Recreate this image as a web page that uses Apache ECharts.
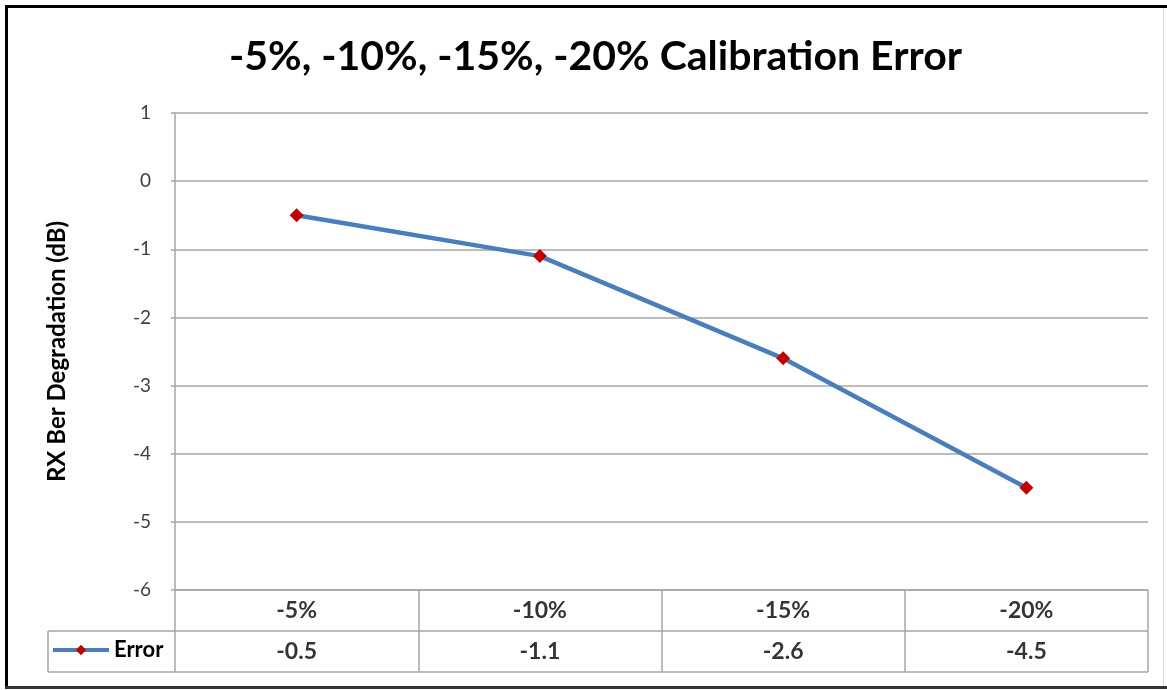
<!DOCTYPE html>
<html>
<head>
<meta charset="utf-8">
<script src="https://cdn.jsdelivr.net/npm/echarts@6/dist/echarts.min.js"></script>
<style>
html,body{margin:0;padding:0;background:#fff;}
#main{width:1167px;height:690px;}
</style>
</head>
<body>
<div id="main"></div>
<script>
const categories = ['-5%', '-10%', '-15%', '-20%'];
const errorValues = [-0.5, -1.1, -2.6, -4.5];
const valueLabels = ['-0.5', '-1.1', '-2.6', '-4.5'];
const seriesName = 'Error';
const titleText = '-5%, -10%, -15%, -20% Calibration Error';
const yAxisName = 'RX Ber Degradation (dB)';

const FONT = 'Lato';
const gridColor = '#A6A6A6';

const tableData = [];
categories.forEach((c, i) => {
  tableData.push([c, 1.5, c]);
  tableData.push([c, 0.5, valueLabels[i]]);
});

const chart = echarts.init(document.getElementById('main'), null, {renderer: 'canvas'});
chart.setOption({
  animation: false,
  backgroundColor: '#fff',
  title: {
    text: titleText,
    left: 224,
    top: 31,
    textStyle: {fontFamily: FONT, fontSize: 41, fontWeight: 'bold', color: '#000'}
  },
  legend: {
    data: [seriesName],
    left: 51,
    top: 639,
    itemWidth: 56,
    itemHeight: 13,
    itemGap: 4,
    padding: 0,
    lineStyle: {width: 4},
    textStyle: {fontFamily: FONT, fontSize: 22, fontWeight: 'bold', color: '#000'}
  },
  grid: [
    {left: 175, right: 19, top: 113, height: 477, containLabel: false},
    {left: 175, right: 19, top: 590, height: 82, containLabel: false}
  ],
  xAxis: [
    {type: 'category', gridIndex: 0, data: categories, boundaryGap: true,
     axisLine: {show: false}, axisTick: {show: false}, axisLabel: {show: false}, splitLine: {show: false}},
    {type: 'category', gridIndex: 1, data: categories, boundaryGap: true,
     axisLine: {show: false}, axisTick: {show: false}, axisLabel: {show: false},
     splitLine: {show: true, lineStyle: {color: gridColor, width: 1.5}}}
  ],
  yAxis: [
    {type: 'value', gridIndex: 0, min: -6, max: 1, interval: 1,
     name: yAxisName, nameLocation: 'middle', nameRotate: 90, nameGap: 106,
     nameTextStyle: {fontFamily: FONT, fontSize: 24, fontWeight: 'bold', color: '#000'},
     axisLine: {show: true, lineStyle: {color: gridColor, width: 1.5}},
     axisTick: {show: true, length: 4, lineStyle: {color: gridColor, width: 1.5}},
     axisLabel: {fontFamily: FONT, fontSize: 19, color: '#404040', margin: 24},
     splitLine: {show: true, lineStyle: {color: gridColor, width: 1.5}}},
    {type: 'value', gridIndex: 1, min: 0, max: 2, interval: 1,
     axisLine: {show: false}, axisTick: {show: false}, axisLabel: {show: false},
     splitLine: {show: true, lineStyle: {color: gridColor, width: 1.5}}}
  ],
  series: [
    {
      name: seriesName,
      type: 'line',
      xAxisIndex: 0, yAxisIndex: 0,
      data: errorValues,
      symbol: 'diamond',
      symbolSize: 14,
      lineStyle: {color: '#4A7EBB', width: 4.5},
      itemStyle: {color: '#C00000'},
      z: 5
    },
    {
      name: 'table',
      type: 'scatter',
      xAxisIndex: 1, yAxisIndex: 1,
      data: tableData,
      symbolSize: 0,
      silent: true,
      label: {
        show: true, position: 'inside',
        formatter: p => p.data[2],
        fontFamily: FONT, fontSize: 23, fontWeight: 'bold', color: '#000'
      }
    }
  ],
  graphic: [
    {type: 'line', shape: {x1: 48, y1: 631, x2: 175, y2: 631}, style: {stroke: gridColor, lineWidth: 1.5}},
    {type: 'line', shape: {x1: 48, y1: 631, x2: 48, y2: 672}, style: {stroke: gridColor, lineWidth: 1.5}},
    {type: 'line', shape: {x1: 48, y1: 672, x2: 175, y2: 672}, style: {stroke: gridColor, lineWidth: 1.5}},
    {type: 'line', shape: {x1: 5, y1: 6.5, x2: 1167, y2: 6.5}, style: {stroke: '#000', lineWidth: 3}},
    {type: 'line', shape: {x1: 6.5, y1: 5, x2: 6.5, y2: 689}, style: {stroke: '#000', lineWidth: 3}},
    {type: 'line', shape: {x1: 5, y1: 687.5, x2: 1167, y2: 687.5}, style: {stroke: '#333', lineWidth: 3}},
    {type: 'line', shape: {x1: 1163.5, y1: 8, x2: 1163.5, y2: 686}, style: {stroke: '#D8D8D8', lineWidth: 1}}
  ]
});
</script>
</body>
</html>
